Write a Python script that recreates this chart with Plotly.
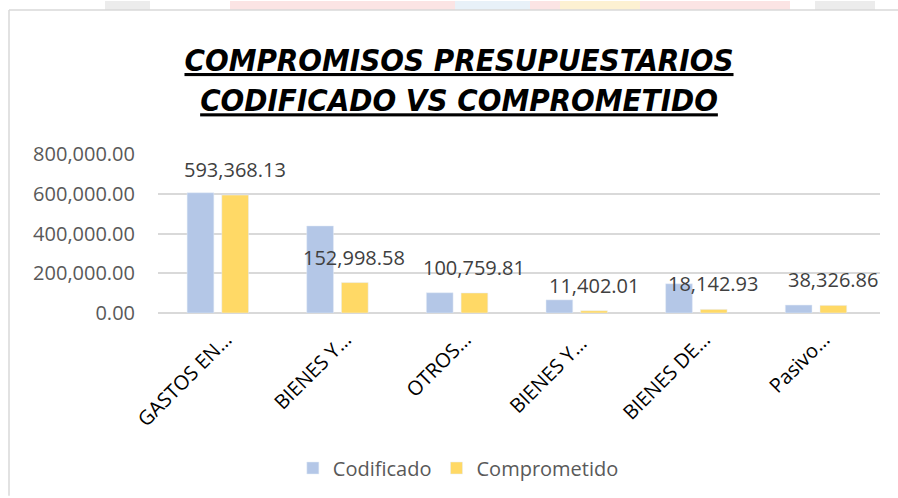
import plotly.graph_objects as go

categorias = ["GASTOS EN…", "BIENES Y…", "OTROS…", "BIENES Y… ", "BIENES DE…", "Pasivo…"]
codificado = [605000, 438000, 102000, 66000, 147000, 40000]
comprometido = [593368.13, 152998.58, 100759.81, 11402.01, 18142.93, 38326.86]
y_ticks = [0, 200000, 400000, 600000, 800000]

AZUL = "#B4C7E7"
AMARILLO = "#FFD966"
GRIS_TXT = "#595959"
GRIS_LIN = "#D9D9D9"
FUENTE = "Open Sans"

W, H = 898, 498
L, R, T, B = 158, 18, 154, 184

fig = go.Figure()
fig.add_trace(go.Bar(x=categorias, y=codificado, name="Codificado", marker_color=AZUL))
fig.add_trace(go.Bar(x=categorias, y=comprometido, name="Comprometido", marker_color=AMARILLO))

# etiquetas de datos sobre la serie Comprometido
for c, v in zip(categorias, comprometido):
    fig.add_annotation(x=c, y=v, text=f"{v:,.2f}", showarrow=False,
                       xshift=17, yshift=10, yanchor="bottom",
                       font=dict(family=FUENTE, size=20, color="#404040"))

titulo = ("<b><i><u>COMPROMISOS PRESUPUESTARIOS</u></i></b><br>"
          "<b><i><u>CODIFICADO VS COMPROMETIDO</u></i></b>")

fig.update_layout(
    width=W, height=H,
    margin=dict(l=L, r=R, t=T, b=B),
    paper_bgcolor="white", plot_bgcolor="white",
    barmode="group", bargap=0.42, bargroupgap=0.23,
    title=dict(text=titulo, x=459 / W, xanchor="center", xref="container",
               y=1 - 71 / H, yanchor="middle", yref="container",
               font=dict(family="Liberation Sans Narrow, DejaVu Sans Condensed, sans-serif",
                         size=31, color="black")),
    legend=dict(orientation="h", x=0.416, xanchor="center", y=-0.9625, yanchor="middle",
                itemwidth=30,
                font=dict(family=FUENTE, size=20, color=GRIS_TXT)),
    showlegend=True,
)

fig.update_yaxes(range=[0, 800000], tickvals=y_ticks, tickformat=",.2f",
                 showgrid=True, gridcolor=GRIS_LIN, gridwidth=1.5,
                 zeroline=True, zerolinecolor=GRIS_LIN, zerolinewidth=1.5,
                 ticklabelstandoff=22,
                 tickfont=dict(family=FUENTE, size=20, color=GRIS_TXT))
fig.update_xaxes(tickangle=-45, showline=False,
                 ticklabelstandoff=10, ticklabelshift=8,
                 tickfont=dict(family=FUENTE, size=20, color="black"))

# coordenadas de pixel -> papel, para el borde y el fondo
def px_x(p):
    return (p - L) / (W - L - R)

def px_y(p):
    return (H - B - p) / (H - T - B)

# restos de la imagen de fondo por encima del grafico
fondo = [(230, 790, "#FBE4E4"), (560, 640, "#FDF1D2"), (455, 530, "#E8F1F8"),
         (105, 150, "#ECECEC"), (815, 875, "#ECECEC")]
for x0, x1, col in fondo:
    fig.add_shape(type="rect", xref="paper", yref="paper",
                  x0=px_x(x0), x1=px_x(x1), y0=px_y(9), y1=px_y(0),
                  fillcolor=col, line_width=0, layer="below")

borde = dict(color=GRIS_LIN, width=1.5)
fig.add_shape(type="line", xref="paper", yref="paper",
              x0=px_x(9), x1=px_x(W), y0=px_y(9), y1=px_y(9), line=borde, layer="below")
fig.add_shape(type="line", xref="paper", yref="paper",
              x0=px_x(9), x1=px_x(9), y0=px_y(9), y1=px_y(H), line=borde, layer="below")

fig.write_html("out.html", config={"displayModeBar": False},
               post_script="document.body.style.margin='0';document.body.style.overflow='hidden';")
